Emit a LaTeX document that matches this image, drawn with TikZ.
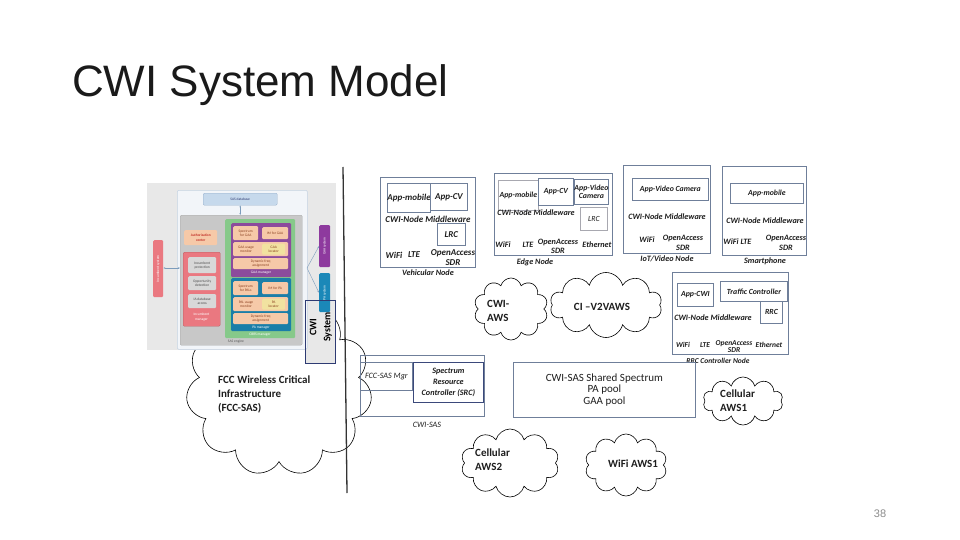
\documentclass[tikz,border=0pt]{standalone}
\usepackage{fontspec}
\setmainfont{Carlito}
\newfontfamily\titlefont{Liberation Sans}
\usetikzlibrary{shapes.symbols,arrows.meta}
\definecolor{boxc}{HTML}{6F7F9A}
\definecolor{lboxc}{HTML}{A8A8B0}
\definecolor{txtc}{HTML}{1E1E1E}
\definecolor{titc}{HTML}{1A1A1A}
\definecolor{panelc}{HTML}{E8E8E8}
\definecolor{sasbg}{HTML}{F2F5F9}
\definecolor{sasbd}{HTML}{C6D3E2}
\definecolor{dbc}{HTML}{C6D9EC}
\definecolor{dbd}{HTML}{97B0CC}
\definecolor{engc}{HTML}{C8C8C8}
\definecolor{cbrsc}{HTML}{86C98A}
\definecolor{gaac}{HTML}{8C4B9C}
\definecolor{pac}{HTML}{1B7EA8}
\definecolor{salc}{HTML}{F6C9A8}
\definecolor{saltx}{HTML}{8A4020}
\definecolor{locc}{HTML}{F1E2A0}
\definecolor{incc}{HTML}{EA7880}
\definecolor{incin}{HTML}{D8D8D8}
\definecolor{gaasys}{HTML}{8E3A9E}
\definecolor{pasys}{HTML}{1B88B8}
\definecolor{cwic}{HTML}{2E3B73}
\definecolor{arrc}{HTML}{7C9CBC}
\definecolor{linec}{HTML}{333333}
\definecolor{pagec}{HTML}{8C8C8C}
\newcommand\rbox[7]{%
  \pgfmathsetmacro\rbw{#4-#2}\pgfmathsetmacro\rbh{#5-#3}%
  \node[#6, anchor=north west, minimum width=\rbw pt, minimum height=\rbh pt] (#1) at (#2,#3) {#7};}
\tikzset{
  nb/.style={draw=boxc, line width=0.8pt, inner sep=0pt, align=center,
    font=\bfseries\itshape\fontsize{9}{10}\selectfont, text=txtc},
  nbl/.style={nb, draw=lboxc},
  nt/.style={inner sep=0pt, align=center, font=\bfseries\itshape\fontsize{9}{10}\selectfont, text=txtc},
  ns/.style={nt, font=\bfseries\itshape\fontsize{8.2}{9.5}\selectfont},
  nx/.style={nt, font=\bfseries\itshape\fontsize{7.5}{7.5}\selectfont},
  eb/.style={nb, font=\bfseries\itshape\fontsize{7.8}{8.6}\selectfont},
  cl/.style={cloud, cloud ignores aspect, cloud puffs=10, draw=black, line width=0.6pt, fill=white, inner sep=0pt},
  clt/.style={inner sep=0pt, align=left, font=\bfseries\fontsize{11}{14}\selectfont, text=txtc},
  sb/.style={rounded corners=1.2pt, inner sep=0pt, align=center, font=\fontsize{3.6}{4.2}\selectfont},
  sin/.style={sb, fill=salc, text=saltx},
  sasarr/.style={draw=arrc, line width=0.4pt, {Stealth[length=2pt]}-{Stealth[length=2pt]}},
}
\begin{document}
\begin{tikzpicture}[x=1pt,y=-1pt]
\path[use as bounding box] (0,0) rectangle (960,540);
\fill[white] (0,0) rectangle (960,540);

% title and page number
\node[anchor=base west, inner sep=0pt, font=\titlefont\fontsize{44}{48}\selectfont, text=titc] (title) at (72,97) {CWI System Model};
\node[inner sep=0pt, font=\titlefont\fontsize{11}{12}\selectfont, text=pagec] (page) at (880,514) {38};

% FCC cloud (behind the SAS picture)
\node[cl, cloud puffs=11, minimum width=186pt, minimum height=176pt] (fcc) at (279,388) {};
\node[clt, anchor=north west] (fcctx) at (218,376) {FCC Wireless Critical\\Infrastructure\\(FCC-SAS)};

% ---- SAS picture ----
\rbox{panel}{147}{183}{336}{350}{fill=panelc, inner sep=0pt}{}
\rbox{cwisys}{305}{300}{335}{363}{fill=panelc, inner sep=0pt}{}
\rbox{sas}{177}{190}{307}{349}{sb, fill=sasbg, draw=sasbd, line width=0.5pt}{}
\rbox{db}{203}{193}{277}{205}{sb, fill=dbc, draw=dbd, line width=0.4pt, text=cwic}{SAS database}
\rbox{eng}{180}{215}{302}{345}{sb, fill=engc, draw=engc!85!black, line width=0.4pt}{}
\node[sb, text=black!65] (engl) at (236,341.5) {SAS engine};
\draw[sasarr] (db.south) -- (eng.north -| db.south);
\rbox{cbrs}{225}{219}{295}{338}{sb, fill=cbrsc}{}
\node[sb, text=white] (cbrsl) at (260,334.5) {CBRS manager};
% GAA manager
\rbox{gaa}{231}{223}{291}{277}{sb, fill=gaac}{}
\node[sb, text=white] (gaal) at (261,273) {GAA manager};
\rbox{sg}{233}{226}{258}{240}{sin}{Spectrum\\for GAA}
\rbox{ig}{262}{227}{288}{239}{sin}{IM for GAA}
\rbox{ug}{233}{242}{288}{256}{sin}{}
\node[sb, text=saltx] (ugt) at (246,249) {GAA usage\\monitor};
\rbox{lg}{262}{243.5}{285}{254.5}{sin, fill=locc}{GAA\\locator}
\rbox{dg}{233}{258}{288}{269}{sin}{Dynamic freq\\assignment}
% PA manager
\rbox{pa}{231}{278}{291}{331}{sb, fill=pac}{}
\node[sb, text=white] (pal) at (261,327.5) {PA manager};
\rbox{sp}{233}{281}{258}{295}{sin}{Spectrum\\for PALs}
\rbox{ip}{262}{282}{288}{294}{sin}{IM for PA}
\rbox{up}{233}{297}{288}{311}{sin}{}
\node[sb, text=saltx] (upt) at (246,304) {PAL usage\\monitor};
\rbox{lp}{262}{298.5}{285}{309.5}{sin, fill=locc}{PA\\locator}
\rbox{dp}{233}{313}{288}{324}{sin}{Dynamic freq\\assignment}
% incumbent manager
\rbox{auth}{184}{230}{217}{245}{sb, fill=salc, text=red!70!black}{Authorization\\center}
\rbox{inc}{183}{252}{220}{326}{sb, fill=incc, draw=incc!80!black, line width=0.4pt}{}
\rbox{ip1}{188}{257}{216}{273}{sb, fill=incin, text=black!70}{Incumbent\\protection}
\rbox{ip2}{188}{276}{216}{290}{sb, fill=incin, text=black!70}{Opportunity\\detection}
\rbox{ip3}{188}{294}{216}{308}{sb, fill=incin, text=black!70}{IA database\\access}
\node[sb, text=white] (incl) at (201.5,317) {Incumbent\\manager};
% systems
\rbox{incsys}{153}{240}{163}{297}{sb, fill=incc}{}
\node[sb, rotate=90, text=white] (incsyst) at (incsys.center) {Incumbent system};
\draw[sasarr] (incsys.east |- 0,268) -- (eng.west |- 0,268);
\rbox{gsys}{319}{225}{330}{267}{sb, fill=gaasys}{}
\node[sb, rotate=90, text=white] (gsyst) at (gsys.center) {GAA system};
\rbox{psys}{319}{273}{330}{312}{sb, fill=pasys}{}
\node[sb, rotate=90, text=white] (psyst) at (psys.center) {PA system};
\coordinate (sasr) at (307,268);
\draw[draw=arrc, line width=0.4pt, -{Stealth[length=2pt]}] (sasr) -- (gsys.west);
\draw[draw=arrc, line width=0.4pt, -{Stealth[length=2pt]}] (sasr) -- (psys.west);
% CWI System box
\draw[draw=cwic, line width=0.9pt] (cwisys.north west) rectangle (cwisys.south east);
\node[inner sep=0pt, rotate=90, align=center, font=\bfseries\fontsize{10}{14}\selectfont] (cwisyst) at (321,327) {CWI\\System};

% vertical separator
\coordinate (vtop) at (343,167);
\coordinate (vbot) at (347,493);
\draw[linec, line width=1.3pt] (vtop) -- (vbot);

% ---- Vehicular node ----
\rbox{veh}{380}{177}{475}{267}{nb}{}
\rbox{vam}{387}{183}{425}{212}{nb}{App-mobile}
\rbox{vcv}{430}{183}{467}{210}{nb}{App-CV}
\node[nt] (vmw) at (428,219) {CWI-Node Middleware};
\rbox{vlrc}{437}{223}{465}{245}{nb}{LRC}
\node[nt] (vwifi) at (394,255) {WiFi};
\node[nt] (vlte) at (414,255) {LTE};
\node[nt] (voa) at (453,258) {OpenAccess\\SDR};
\node[ns] (vlab) at (428,273) {Vehicular Node};

% ---- Edge node ----
\rbox{edge}{494}{173}{612}{255}{nb}{}
\rbox{eam}{498}{180}{538}{210}{eb, draw=lboxc}{App-mobile}
\rbox{ecv}{538}{178}{573}{205}{eb}{App-CV}
\rbox{evc}{574}{179}{608}{204}{eb}{App-Video\\Camera}
\node[ns] (emw) at (536,213) {CWI-Node Middleware};
\rbox{elrc}{580}{207}{607}{230}{nbl, font=\itshape\fontsize{7.8}{9}\selectfont}{LRC}
\node[ns] (ewifi) at (503,245) {WiFi};
\node[ns] (elte) at (528,245) {LTE};
\node[ns] (eoa) at (558,246.5) {OpenAccess\\SDR};
\node[ns] (eeth) at (597,245) {Ethernet};
\node[ns] (elab) at (535,262) {Edge Node};

% ---- IoT/Video node ----
\rbox{iot}{623}{165}{710}{253}{nb}{}
\rbox{ivc}{632}{178}{708}{200}{eb}{App-Video Camera}
\node[ns] (imw) at (667,217) {CWI-Node Middleware};
\node[ns] (iwifi) at (647,240) {WiFi};
\node[ns] (ioa) at (683,243) {OpenAccess\\SDR};
\node[ns] (ilab) at (667,259) {IoT/Video Node};

% ---- Smartphone ----
\rbox{sph}{722}{166}{806}{255}{nb}{}
\rbox{sam}{730}{183}{803}{203}{eb}{App-mobile}
\node[ns] (smw) at (765,221) {CWI-Node Middleware};
\node[ns] (swifi) at (731,242) {WiFi};
\node[ns] (slte) at (746,242) {LTE};
\node[ns] (soa) at (786,243) {OpenAccess\\SDR};
\node[ns] (slab) at (765,261) {Smartphone};

% ---- RRC controller node ----
\rbox{rrcn}{672}{272}{788}{354}{nb}{}
\rbox{racwi}{677}{283}{713}{306}{eb}{App-CWI}
\rbox{rtc}{720}{281}{787}{301}{eb}{Traffic Controller}
\rbox{rrrc}{760}{301}{782}{323}{eb}{RRC}
\node[ns] (rmw) at (713,318) {CWI-Node Middleware};
\node[nx] (rwifi) at (683,345) {WiFi};
\node[nx] (rlte) at (705,345) {LTE};
\node[nx] (roa) at (734,346.5) {OpenAccess\\SDR};
\node[nx] (reth) at (769,345) {Ethernet};
\node[nx] (rlab) at (718,360.5) {RRC Controller Node};

% ---- CWI-SAS ----
\rbox{cwisas}{360}{355}{484}{416}{draw=boxc, line width=0.8pt, inner sep=0pt}{}
\rbox{fccmgr}{360}{362}{412}{390}{draw=boxc, line width=0.8pt, inner sep=0pt, font=\itshape\fontsize{8.2}{9}\selectfont, text=txtc}{FCC-SAS Mgr}
\rbox{src}{413}{362}{483}{402}{draw=cwic!80!boxc, line width=0.8pt, inner sep=0pt, align=center, font=\bfseries\itshape\fontsize{8.2}{11}\selectfont, text=txtc}{Spectrum\\Resource\\Controller (SRC)}
\node[ns, font=\itshape\fontsize{8.2}{9}\selectfont] (cwisasl) at (427,425) {CWI-SAS};

% ---- Shared spectrum ----
\rbox{shared}{513}{362}{695}{417}{draw=boxc, line width=0.8pt, inner sep=0pt, align=center, font=\fontsize{11}{11.5}\selectfont, text=txtc}{CWI-SAS Shared Spectrum\\PA pool\\GAA pool}

% ---- clouds ----
\node[cl, minimum width=74pt, minimum height=62pt] (cwiaws) at (511,309) {};
\node[clt, anchor=west] (cwiawst) at (487,311) {CWI-\\AWS};
\node[cl, minimum width=112pt, minimum height=65pt] (v2v) at (606,305) {};
\node[clt] (v2vt) at (602,307) {CI --V2VAWS};
\node[cl, minimum width=80pt, minimum height=48pt] (aws1) at (743,401) {};
\node[clt, anchor=west] (aws1t) at (720,401) {Cellular\\AWS1};
\node[cl, minimum width=98pt, minimum height=68pt] (aws2) at (510,463) {};
\node[clt, anchor=west] (aws2t) at (475,460) {Cellular\\AWS2};
\node[cl, minimum width=82pt, minimum height=62pt] (wifi) at (626,465) {};
\node[clt] (wifit) at (633,464) {WiFi AWS1};
\end{tikzpicture}
\end{document}
